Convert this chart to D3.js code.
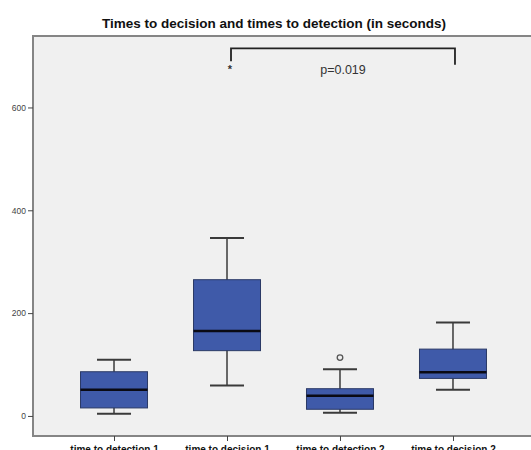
<!DOCTYPE html>
<html>
<head>
<meta charset="utf-8">
<script src="https://d3js.org/d3.v7.min.js"></script>
<style>
  body { margin: 0; background: #fff; }
  svg { display: block; font-family: "Liberation Sans", Arial, sans-serif; }
</style>
</head>
<body>
<div id="chart"></div>
<script>
// data (seconds)
var categories = ["time to detection 1", "time to decision 1", "time to detection 2", "time to decision 2"];
var whiskerLow  = [4.5, 59, 6, 51];
var q1          = [15.6, 127, 13, 73];
var medians     = [51, 165, 39.5, 85];
var q3          = [86, 265, 53, 130];
var whiskerHigh = [109.5, 346, 91, 182];
// outliers: [category index, value, marker]
var outliers = [[1, 680, "*"], [2, 113.5, "o"]];
var yTicks = [0, 200, 400, 600];
var pLabel = "p=0.019";

var W = 531, H = 450;
var plot = {left: 33, right: 534, top: 36, bottom: 436};

var svg = d3.select("#chart").append("svg")
    .attr("width", W).attr("height", H);

// title
svg.append("text")
    .attr("x", 274).attr("y", 28)
    .attr("text-anchor", "middle")
    .attr("font-size", "13.5px").attr("font-weight", "bold")
    .attr("fill", "#111")
    .text("Times to decision and times to detection (in seconds)");

// plot background + frame
svg.append("rect")
    .attr("x", plot.left).attr("y", plot.top)
    .attr("width", plot.right - plot.left).attr("height", plot.bottom - plot.top)
    .attr("fill", "#f0f0f0")
    .attr("stroke", "#858585").attr("stroke-width", 2);

var y = d3.scaleLinear().domain([-39, 739]).range([plot.bottom, plot.top]);
var x = d3.scalePoint().domain(categories).range([plot.left, plot.right]).padding(0.717);
var boxW = 67;

// y axis
var yAxis = svg.append("g")
    .attr("transform", "translate(" + plot.left + ",0)")
    .call(d3.axisLeft(y).tickValues(yTicks).tickSize(5).tickSizeOuter(0));
yAxis.select(".domain").remove();
yAxis.selectAll("line").attr("stroke", "#444");
yAxis.selectAll("text").attr("font-size", "8.5px").attr("fill", "#444").attr("dx", "1");

// x axis
var xAxis = svg.append("g")
    .attr("transform", "translate(0," + plot.bottom + ")")
    .call(d3.axisBottom(x).tickSize(5).tickSizeOuter(0));
xAxis.select(".domain").remove();
xAxis.selectAll("line").attr("stroke", "#444");
xAxis.selectAll("text")
    .attr("font-size", "10px").attr("font-weight", "bold").attr("fill", "#111")
    .attr("dy", "0.85em");

// boxes
var rows = categories.map(function(c, i) {
    return {name: c, lo: whiskerLow[i], q1: q1[i], med: medians[i], q3: q3[i], hi: whiskerHigh[i]};
});

var g = svg.append("g").selectAll("g")
    .data(rows)
    .enter().append("g");

// whisker stems
g.append("line")
    .attr("x1", function(d) { return x(d.name); })
    .attr("x2", function(d) { return x(d.name); })
    .attr("y1", function(d) { return y(d.hi); })
    .attr("y2", function(d) { return y(d.lo); })
    .attr("stroke", "#3a3a3a").attr("stroke-width", 1.5);

// whisker caps
["hi", "lo"].forEach(function(k) {
    g.append("line")
        .attr("x1", function(d) { return x(d.name) - 17; })
        .attr("x2", function(d) { return x(d.name) + 17; })
        .attr("y1", function(d) { return y(d[k]); })
        .attr("y2", function(d) { return y(d[k]); })
        .attr("stroke", "#3a3a3a").attr("stroke-width", 2);
});

g.append("rect")
    .attr("x", function(d) { return x(d.name) - boxW / 2; })
    .attr("y", function(d) { return y(d.q3); })
    .attr("width", boxW)
    .attr("height", function(d) { return y(d.q1) - y(d.q3); })
    .attr("fill", "#3f5aa9")
    .attr("stroke", "#2b3a66").attr("stroke-width", 1);

g.append("line")
    .attr("x1", function(d) { return x(d.name) - boxW / 2; })
    .attr("x2", function(d) { return x(d.name) + boxW / 2; })
    .attr("y1", function(d) { return y(d.med); })
    .attr("y2", function(d) { return y(d.med); })
    .attr("stroke", "#0a0a14").attr("stroke-width", 2.5);

// outliers
outliers.forEach(function(o) {
    var cx = x(categories[o[0]]);
    if (o[2] === "o") {
        svg.append("circle")
            .attr("cx", cx).attr("cy", y(o[1])).attr("r", 2.8)
            .attr("fill", "none").attr("stroke", "#555").attr("stroke-width", 1.3);
    } else {
        svg.append("text")
            .attr("x", cx + 3).attr("y", y(o[1]) + 7)
            .attr("text-anchor", "middle")
            .attr("font-size", "11px").attr("font-weight", "bold").attr("fill", "#333")
            .text("*");
    }
});

// significance bracket between decision 1 and decision 2
var bx1 = x(categories[1]) + 4, bx2 = x(categories[3]) + 2;
var by = y(715);
svg.append("path")
    .attr("d", "M" + bx1 + "," + y(690) + "V" + by + "H" + bx2 + "V" + y(683))
    .attr("fill", "none").attr("stroke", "#222").attr("stroke-width", 1.8);

svg.append("text")
    .attr("x", (bx1 + bx2) / 2).attr("y", y(672) + 4)
    .attr("text-anchor", "middle")
    .attr("font-size", "12.5px").attr("fill", "#333")
    .text(pLabel);
</script>
</body>
</html>
